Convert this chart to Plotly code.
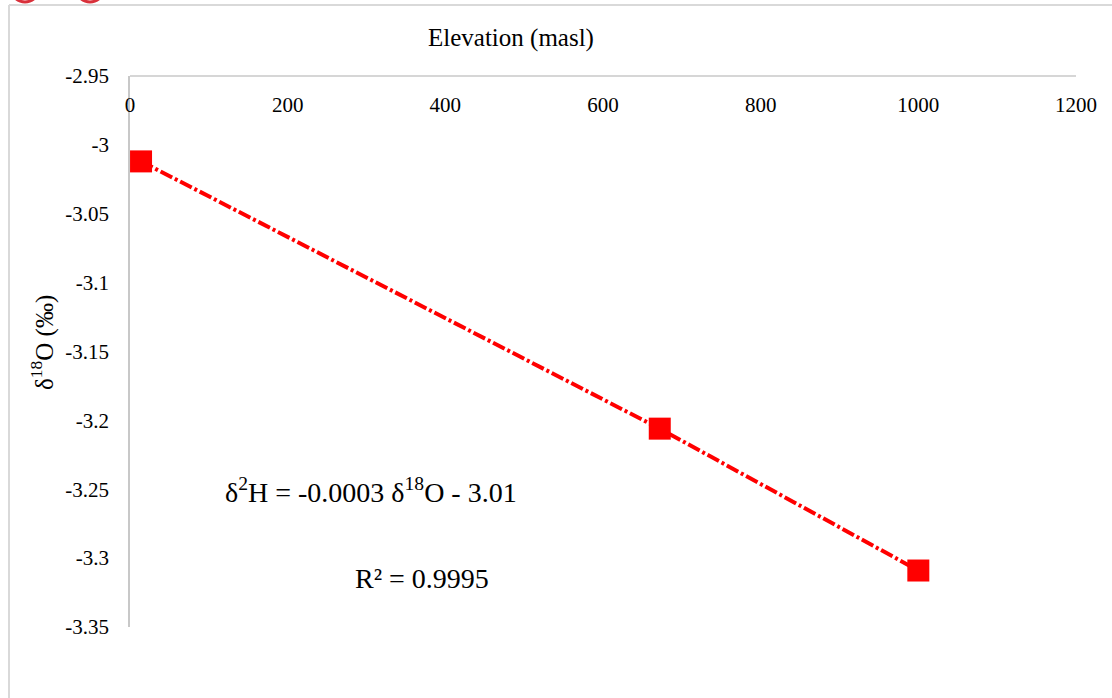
import plotly.graph_objects as go

elevation = [14, 672, 1000]
d18o = [-3.012, -3.206, -3.309]

x_ticks = [0, 200, 400, 600, 800, 1000, 1200]
x_ticktext = ["0", "200", "400", "600", "800", "1000", "1200"]
y_ticks = [-2.95, -3.0, -3.05, -3.1, -3.15, -3.2, -3.25, -3.3, -3.35]
y_ticktext = ["-2.95", "-3", "-3.05", "-3.1", "-3.15", "-3.2", "-3.25", "-3.3", "-3.35"]

W, H = 1112, 698
L, R, T, B = 130, 36, 76, 71
pw, ph = W - L - R, H - T - B

def px(x):
    return (x - L) / pw

def py(y):
    return 1 - (y - T) / ph

FONT = "Liberation Serif, Times New Roman, serif"

fig = go.Figure()
fig.add_trace(go.Scatter(
    x=elevation, y=d18o, mode="lines+markers",
    line=dict(color="#ff0000", width=4, dash="13px,3px,3px,3px"),
    marker=dict(symbol="square", size=22, color="#ff0000"),
    showlegend=False,
))

fig.update_layout(
    width=W, height=H,
    margin=dict(l=L, r=R, t=T, b=B),
    paper_bgcolor="white", plot_bgcolor="white",
    font=dict(family=FONT, size=21, color="#000"),
    xaxis=dict(
        side="bottom", anchor="free", position=py(88),
        range=[0, 1200], tickvals=x_ticks, ticktext=x_ticktext,
        showgrid=False, zeroline=False, showline=False,
        ticks="", ticklabelstandoff=2,
        tickfont=dict(family=FONT, size=21),
    ),
    yaxis=dict(
        range=[-3.35, -2.95], tickvals=y_ticks, ticktext=y_ticktext,
        showgrid=False, zeroline=False, showline=True, linecolor="#c8c8c8", linewidth=1.5,
        ticks="", ticklabelstandoff=15,
        tickfont=dict(family=FONT, size=21),
    ),
    shapes=[
        dict(type="line", xref="paper", yref="paper", x0=0, x1=1, y0=1, y1=1,
             line=dict(color="#c8c8c8", width=1.5)),
        dict(type="line", xref="paper", yref="paper", x0=px(9), x1=px(9), y0=py(5), y1=py(700),
             line=dict(color="#d9d9d9", width=2)),
        dict(type="line", xref="paper", yref="paper", x0=px(9), x1=px(1115), y0=py(5), y1=py(5),
             line=dict(color="#d9d9d9", width=2)),
        dict(type="circle", xref="paper", yref="paper", x0=px(11), x1=px(39), y0=py(2), y1=py(-26),
             line=dict(color="#d9303a", width=3), fillcolor="rgba(0,0,0,0)"),
        dict(type="circle", xref="paper", yref="paper", x0=px(76), x1=px(104), y0=py(2), y1=py(-26),
             line=dict(color="#d9303a", width=3), fillcolor="rgba(0,0,0,0)"),
    ],
    annotations=[
        dict(text="Elevation (masl)", xref="paper", yref="paper", x=px(511), y=py(38),
             xanchor="center", yanchor="middle",
             showarrow=False, font=dict(family=FONT, size=25)),
        dict(text="δ<sup>18</sup>O (‰)", xref="paper", yref="paper", x=px(42), y=py(343),
             xanchor="center", yanchor="middle",
             showarrow=False, textangle=-90, font=dict(family=FONT, size=25)),
        dict(text="δ<sup>2</sup>H = -0.0003 δ<sup>18</sup>O - 3.01", xref="paper", yref="paper",
             x=px(371), y=py(490), xanchor="center", yanchor="middle",
             showarrow=False, font=dict(family=FONT, size=28)),
        dict(text="R² = 0.9995", xref="paper", yref="paper",
             x=px(422), y=py(578), xanchor="center", yanchor="middle",
             showarrow=False, font=dict(family=FONT, size=28)),
    ],
)

fig.write_html("out.html")
